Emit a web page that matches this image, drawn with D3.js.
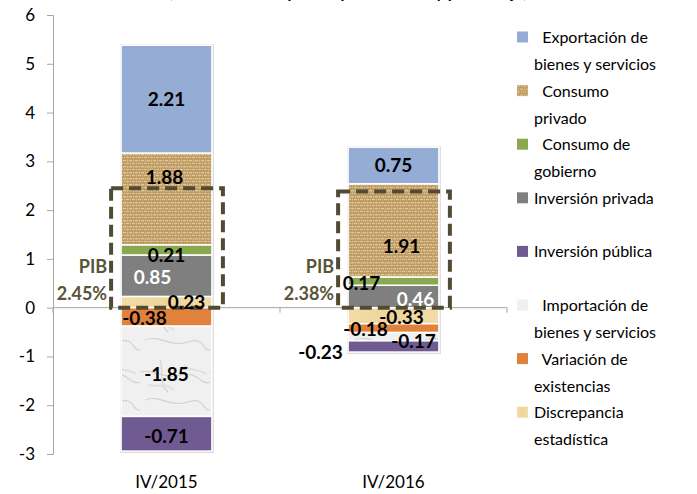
<!DOCTYPE html>
<html>
<head>
<meta charset="utf-8">
<script src="https://cdn.jsdelivr.net/npm/d3@7"></script>
<style>
  body { margin: 0; background: #fff; }
  svg text { font-family: Lato, "Open Sans", sans-serif; }
</style>
</head>
<body>
<div id="chart"></div>
<script>
// data (contribution in percentage points)
var categories = ["IV/2015", "IV/2016"];
var exportacion = [2.21, 0.75];
var consumoPrivado = [1.88, 1.91];
var consumoGobierno = [0.21, 0.17];
var inversionPrivada = [0.85, 0.46];
var inversionPublica = [-0.71, -0.23];
var importacion = [-1.85, -0.17];
var variacion = [-0.38, -0.18];
var discrepancia = [0.23, -0.33];
var pib = [2.45, 2.38];
var yTicks = [-3, -2, -1, 0, 1, 2, 3, 4, 5, 6];

// stacking order from the axis outward
var keys = ["discrepancia", "variacion", "importacion", "inversionPublica", "inversionPrivada", "consumoGobierno", "consumoPrivado", "exportacion"];
var series = {
  exportacion: exportacion, consumoPrivado: consumoPrivado, consumoGobierno: consumoGobierno,
  inversionPrivada: inversionPrivada, inversionPublica: inversionPublica,
  importacion: importacion, variacion: variacion, discrepancia: discrepancia
};
var legendItems = [
  ["exportacion", ["  Exportación de", "bienes y servicios"]],
  ["consumoPrivado", ["  Consumo", "privado"]],
  ["consumoGobierno", ["  Consumo de", "gobierno"]],
  ["inversionPrivada", ["Inversión privada"]],
  ["inversionPublica", ["Inversión pública"]],
  ["importacion", ["  Importación de", "bienes y servicios"]],
  ["variacion", ["  Variación de", "existencias"]],
  ["discrepancia", ["Discrepancia", "estadística"]]
];

var fills = {
  exportacion: "#95acd4",
  consumoPrivado: "url(#burlap)",
  consumoGobierno: "#8aa94f",
  inversionPrivada: "#7f7f7f",
  inversionPublica: "#705a92",
  importacion: "url(#marble)",
  variacion: "#e0823c",
  discrepancia: "url(#beige)"
};
var whiteText = { inversionPrivada: true };
// label nudges [dx, dy] per series, per category
var nudge = {
  consumoPrivado: [[-2, -22], [8, 16]],
  consumoGobierno: [[0, 5], [-32, 2]],
  inversionPrivada: [[-14, 2], [22, 3]],
  discrepancia: [[20, 0], [8, 2]],
  variacion: [[-22, 1], [-28, 1]],
  importacion: [[0, 3], [20, 5]],
  inversionPublica: [[0, 3], [-73, 6]]
};

// plain hyphen for negatives, as in the picture
function fmt(f) { return function(v) { return f(v).replace("\u2212", "-"); }; }
var fmt2 = fmt(d3.format(".2f"));

var width = 697, height = 494;
var svg = d3.select("#chart").append("svg").attr("width", width).attr("height", height);

var defs = svg.append("defs");
// burlap texture
var burlap = defs.append("pattern").attr("id", "burlap").attr("patternUnits", "userSpaceOnUse")
  .attr("width", 6).attr("height", 6);
burlap.append("rect").attr("width", 6).attr("height", 6).attr("fill", "#bf9d68");
burlap.append("path").attr("d", "M0,1.5H3M3,4.5H6").attr("stroke", "#e2c995").attr("stroke-width", 1.3);
burlap.append("path").attr("d", "M1.5,3V6M4.5,0V3").attr("stroke", "#d8bb85").attr("stroke-width", 1.3);
burlap.append("path").attr("d", "M0,0H6M0,3H6").attr("stroke", "#9a7848").attr("stroke-width", 0.5);
// marble texture
var marble = defs.append("pattern").attr("id", "marble").attr("patternUnits", "userSpaceOnUse")
  .attr("width", 70).attr("height", 60);
marble.append("rect").attr("width", 70).attr("height", 60).attr("fill", "#f0f0f0");
marble.append("path").attr("d", "M0,12 C15,8 22,20 40,15 S60,26 70,22 M5,40 C20,34 30,48 48,42 S62,52 70,50 M20,0 C24,10 18,24 28,32")
  .attr("fill", "none").attr("stroke", "#d3d3d3").attr("stroke-width", 1.2);
marble.append("path").attr("d", "M8,25 C18,28 26,22 34,30 M44,5 C50,12 58,8 66,14")
  .attr("fill", "none").attr("stroke", "#e0e0e0").attr("stroke-width", 2);
// beige gradient
var beige = defs.append("linearGradient").attr("id", "beige").attr("x1", 0).attr("y1", 0).attr("x2", 1).attr("y2", 0);
beige.append("stop").attr("offset", "0%").attr("stop-color", "#f3dca8");
beige.append("stop").attr("offset", "50%").attr("stop-color", "#efd49a");
beige.append("stop").attr("offset", "100%").attr("stop-color", "#f3dca8");

var x = d3.scaleBand().domain(categories).range([53, 507]).paddingInner(0.6).paddingOuter(0.3);
var y = d3.scaleLinear().domain([-3, 6]).range([454, 15]);

// title, cut off at the top of the picture (only its descenders show)
svg.append("text").attr("x", 348).attr("y", -2).attr("text-anchor", "middle")
  .style("font-size", "16px").style("font-weight", "bold")
  .text("(contribución en puntos porcentuales y porcentaje)");

// y axis
var yAxis = svg.append("g").attr("transform", "translate(53,0)")
  .call(d3.axisLeft(y).tickValues(yTicks).tickSize(6).tickPadding(12).tickFormat(fmt(d3.format("d"))));
yAxis.select(".domain").attr("stroke", "#a6a6a6");
yAxis.selectAll(".tick line").attr("stroke", "#a6a6a6");
yAxis.selectAll(".tick text").style("font-size", "17px").attr("fill", "#000");

// x axis along zero
var xAxis = svg.append("g").attr("transform", "translate(0," + y(0) + ")");
xAxis.append("line").attr("x1", 53).attr("x2", 507).attr("stroke", "#a6a6a6");
xAxis.selectAll(".sep").data([53, 53 + x.step(), 507]).enter().append("line")
  .attr("x1", function(d) { return d; }).attr("x2", function(d) { return d; })
  .attr("y1", 0).attr("y2", 5).attr("stroke", "#a6a6a6");
svg.selectAll(".xlab").data(categories).enter().append("text")
  .attr("x", function(d) { return x(d) + x.bandwidth() / 2; }).attr("y", 488)
  .attr("text-anchor", "middle").style("font-size", "17px").text(function(d) { return d; });

// stacked bars
var rows = categories.map(function(c, i) {
  var r = { cat: c };
  keys.forEach(function(k) { r[k] = series[k][i]; });
  return r;
});
var stacked = d3.stack().keys(keys).offset(d3.stackOffsetDiverging)(rows);

// soft shadow behind each bar
svg.selectAll(".shadow").data(categories).enter().append("rect")
  .attr("x", function(d) { return x(d) - 1; }).attr("width", x.bandwidth() + 3)
  .attr("y", function(d, i) { return y(d3.max(stacked, function(s) { return s[i][1]; })) - 1; })
  .attr("height", function(d, i) {
    return y(d3.min(stacked, function(s) { return s[i][0]; })) - y(d3.max(stacked, function(s) { return s[i][1]; })) + 3;
  })
  .attr("fill", "#dcdcdc");

var segs = [];
stacked.forEach(function(s) { s.forEach(function(d, i) { segs.push({ key: s.key, i: i, y0: d[0], y1: d[1], cat: d.data.cat, v: d.data[s.key] }); }); });

svg.append("g").selectAll("rect").data(segs).enter().append("rect")
  .attr("x", function(d) { return x(d.cat); })
  .attr("width", x.bandwidth())
  .attr("y", function(d) { return y(d.y1); })
  .attr("height", function(d) { return y(d.y0) - y(d.y1); })
  .attr("fill", function(d) { return fills[d.key]; })
  .attr("stroke", "#fff").attr("stroke-width", 1.5);

// dashed PIB boxes
svg.selectAll(".pib").data(pib).enter().append("rect")
  .attr("x", function(d, i) { return x(categories[i]) - 10; })
  .attr("width", x.bandwidth() + 21)
  .attr("y", function(d) { return y(d); })
  .attr("height", function(d) { return y(0) - y(d); })
  .attr("fill", "none").attr("stroke", "#514b33").attr("stroke-width", 4)
  .attr("stroke-dasharray", "12,6");

// value labels, drawn over all segments
svg.append("g").selectAll("text").data(segs).enter().append("text")
  .attr("x", function(d) { var n = nudge[d.key]; return x(d.cat) + x.bandwidth() / 2 + (n ? n[d.i][0] : 0); })
  .attr("y", function(d) { var n = nudge[d.key]; return (y(d.y0) + y(d.y1)) / 2 + (n ? n[d.i][1] : 0); })
  .attr("dy", "0.35em").attr("text-anchor", "middle")
  .style("font-size", "19px").style("font-weight", "bold")
  .attr("fill", function(d) { return whiteText[d.key] ? "#fff" : "#000"; })
  .text(function(d) { return fmt2(d.v); });

var pibLab = svg.selectAll(".pibl").data(pib).enter().append("text")
  .attr("text-anchor", "end").style("font-size", "18px").style("font-weight", "bold")
  .attr("fill", "#5a5538");
pibLab.append("tspan").attr("x", function(d, i) { return x(categories[i]) - 14; }).attr("y", 273).text("PIB");
pibLab.append("tspan").attr("x", function(d, i) { return x(categories[i]) - 14; }).attr("y", 300)
  .text(function(d) { return fmt2(d) + "%"; });

// legend
var legend = svg.selectAll(".leg").data(legendItems).enter().append("g")
  .attr("transform", function(d, i) { return "translate(517," + (37 + i * 53.6) + ")"; });
legend.append("rect").attr("x", 0).attr("y", -5.5).attr("width", 11).attr("height", 11)
  .attr("fill", function(d) { return fills[d[0]]; });
var legText = legend.append("text").style("font-size", "16px").attr("fill", "#000")
  .style("white-space", "pre");
legText.selectAll("tspan").data(function(d) { return d[1]; }).enter().append("tspan")
  .attr("x", 17).attr("y", function(d, i) { return 6 + i * 27; })
  .text(function(d) { return d; });
</script>
</body>
</html>
